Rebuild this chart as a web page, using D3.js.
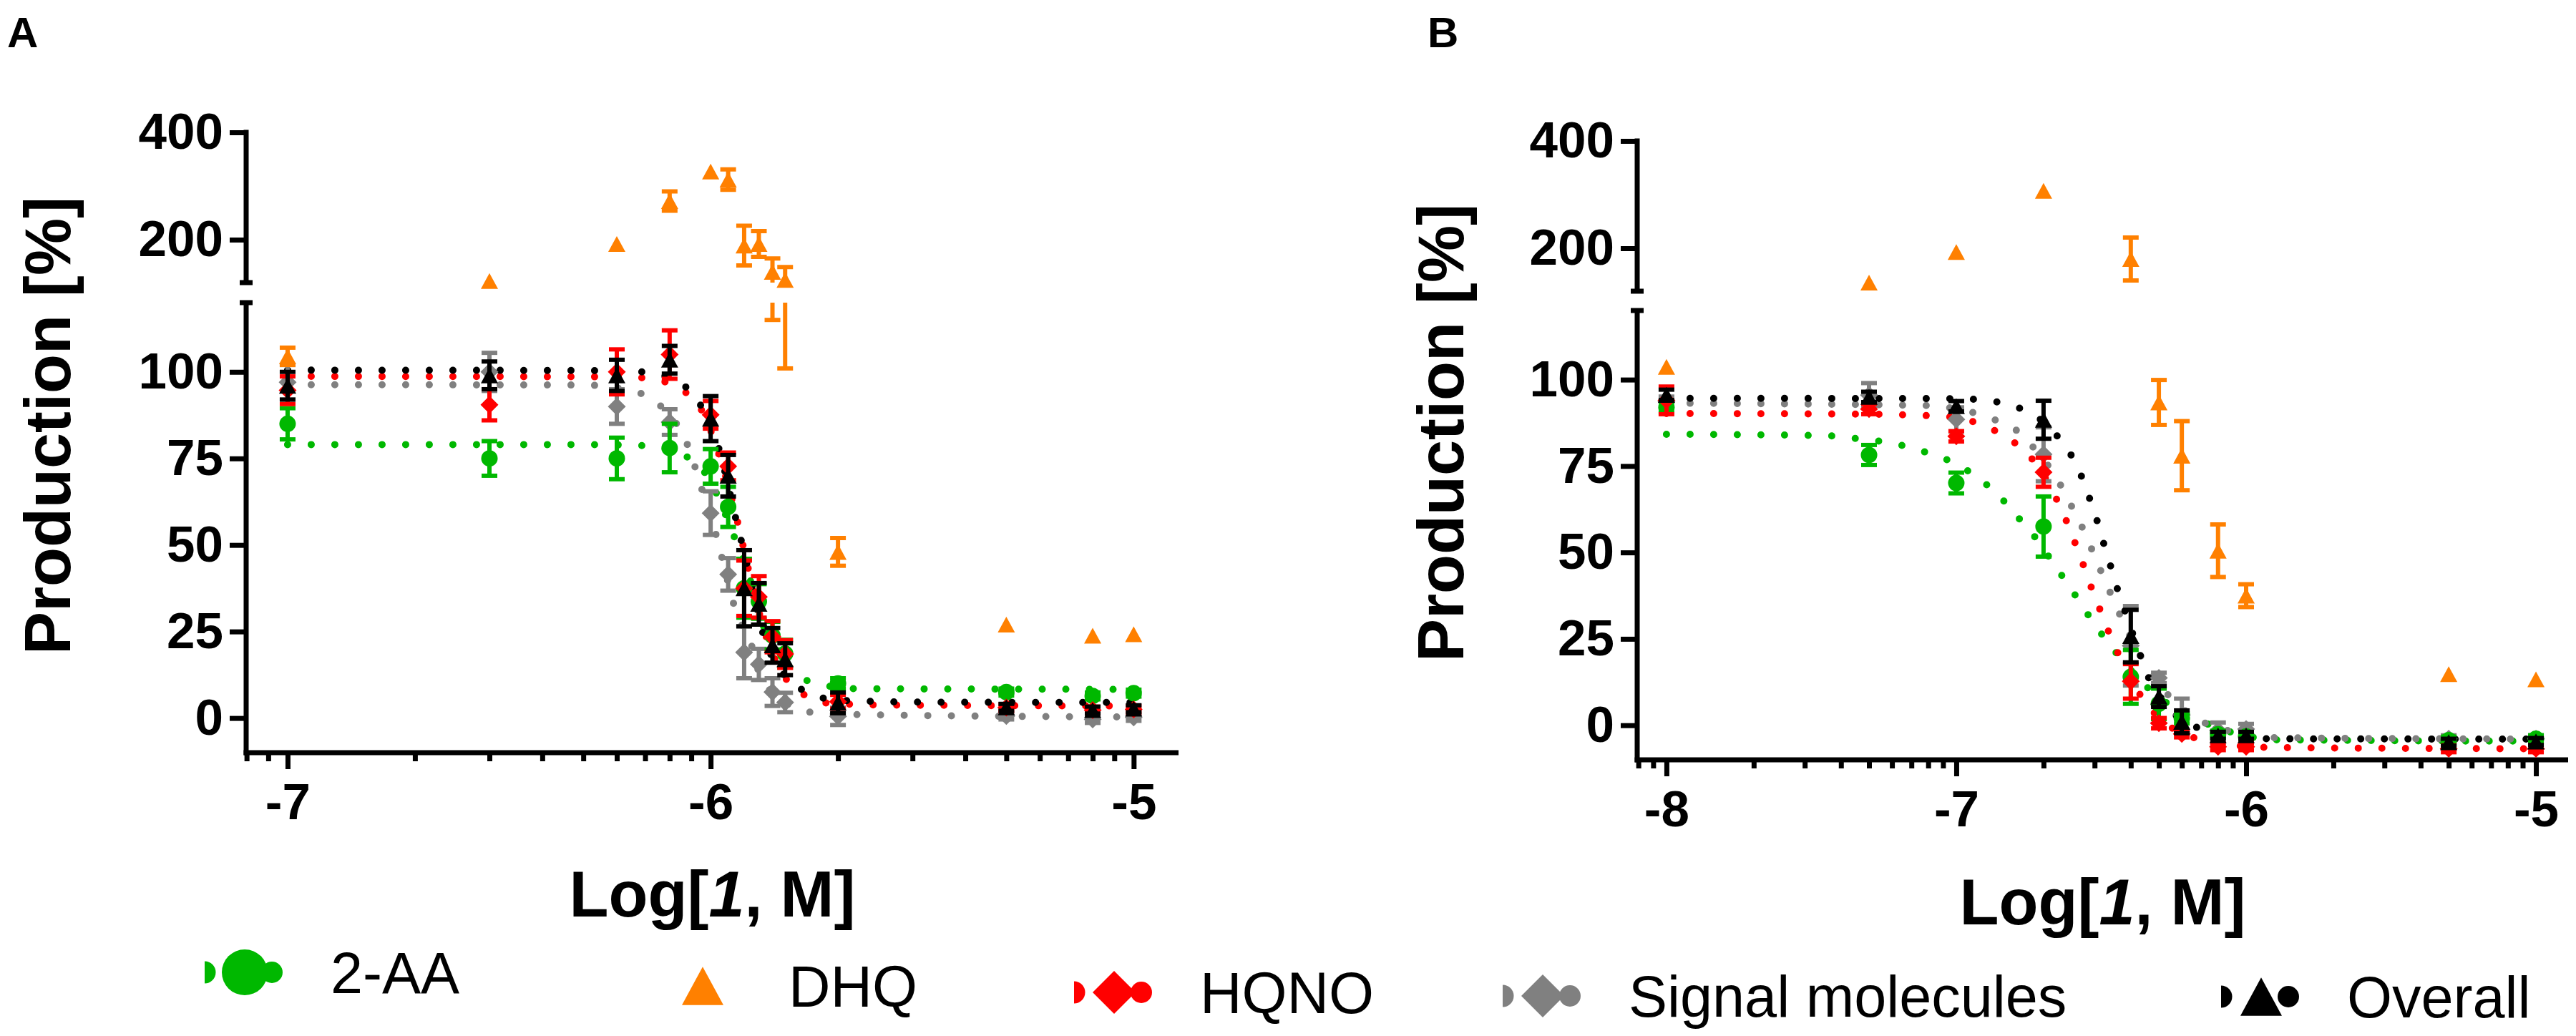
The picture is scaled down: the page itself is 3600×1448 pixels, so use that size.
<!DOCTYPE html>
<html lang="en">
  <head>
    <meta charset="utf-8">
    <title>Production vs Log[1, M]</title>
    <script src="https://d3js.org/d3.v7.min.js"></script>
    <style>
      body { margin: 0; background: white; }
      svg { display: block; }
      text { font-family: "Liberation Sans", Arial, sans-serif; }
    </style>
  </head>
  <body>
    <script>
      // ---------- data ----------
      const seriesNames = ["2-AA", "DHQ", "HQNO", "Signal molecules", "Overall"];

      // panel A : concentrations in M
      const concA = [1e-7, 3e-7, 6e-7, 8e-7, 1e-6, 1.1e-6, 1.2e-6, 1.3e-6, 1.4e-6, 1.5e-6, 2e-6, 5e-6, 8e-6, 1e-5];
      const aaA      = [85, 75, 75, 78, 72.7, 61, 37.5, 33.7, 23.8, 18.6, 10, 7.5, 6.4, 7.2];
      const aaErrA   = [4.5, 5, 6, 7, 5, 5.8, 8.5, 5, 4, 4, 1.5, 1, 1, 1];
      const dhqA     = [104.5, 123, 192, 272, 327, 312, 189, 192, 140, 125, 48, 27, 23.8, 24.2];
      const dhqErrA  = [2.5, 0, 0, 18, 0, 19, 37, 24, 25, 24, 4, 0, 0, 0];
      const hqnoA    = [94.7, 90.5, 100, 105, 87.6, 72.7, 37.5, 35, 23.5, 18.5, 4.7, 3, 2.3, 2.5];
      const hqnoErrA = [4, 4.5, 6.5, 7, 4, 4, 8, 6, 4.5, 4, 2, 1, 1, 1];
      const sigA     = [97, 100, 90, 85.5, 59.2, 41.5, 19, 15.5, 7.5, 4.5, 0.5, 0.6, -0.4, 0.2];
      const sigErrA  = [5, 5.5, 5, 3.7, 6.3, 4.7, 7.5, 4.5, 4, 2.8, 2.5, 1, 1, 1];
      const allA     = [96, 99, 99, 103.5, 86.5, 70, 37.5, 33, 21, 17, 4.4, 3.1, 2.3, 2.7];
      const allErrA  = [4, 4, 4.5, 4, 6.5, 6, 11, 6, 5, 4.6, 3, 1, 1, 1];

      // fitted curves of panel A, [log10 conc, %]
      const fitAaA   = [[-7, 79], [-6.3, 79], [-6.16, 78.7], [-6.052, 75.2], [-6.012, 70.6], [-5.943, 52], [-5.905, 39.3],
                        [-5.872, 25.5], [-5.81, 14.5], [-5.767, 10.6], [-5.657, 8.5], [-5, 8.3]];
      const fitHqnoA = [[-7, 98.7], [-6.3, 98.6], [-6.16, 98.3], [-6.056, 93.8], [-6.02, 88.6], [-5.98, 76], [-5.935, 56],
                        [-5.91, 42.6], [-5.87, 24], [-5.82, 11], [-5.78, 6.8], [-5.72, 4.3], [-5.6, 3.8], [-5, 3.5]];
      const fitSigA  = [[-7, 96.3], [-6.3, 96.2], [-6.16, 93.6], [-6.117, 90], [-6.054, 78.7], [-6.019, 65.4], [-5.986, 52.4],
                        [-5.959, 39.3], [-5.944, 32.3], [-5.9, 19.7], [-5.885, 13], [-5.809, 3.3], [-5.757, 1.6], [-5.644, 1], [-5, 0.3]];
      const fitAllA  = [[-7, 100.5], [-6.3, 100.4], [-6.16, 100], [-6.056, 95.4], [-6.022, 90], [-5.98, 77.6], [-5.94, 57.3],
                        [-5.914, 44.5], [-5.875, 24], [-5.824, 12], [-5.78, 7.9], [-5.727, 5.6], [-5.67, 5], [-5.5, 4.6], [-5, 4.5]];

      // panel B
      const concB = [1e-8, 5e-8, 1e-7, 2e-7, 4e-7, 5e-7, 6e-7, 8e-7, 1e-6, 5e-6, 1e-5];
      const aaB      = [92, 78.2, 70.1, 57.5, 14, 6.2, 2, -2.6, -3.2, -4.3, -3.9];
      const aaErrB   = [1.5, 2.9, 3, 8.7, 7.8, 4.4, 1.5, 1, 1, 1, 1];
      const dhqB     = [103.7, 136, 193, 307, 180, 93.4, 78, 50.5, 37.5, 14.8, 13.3];
      const dhqErrB  = [0, 0, 0, 0, 40, 6.5, 10, 7.6, 3.3, 0, 0];
      const hqnoB    = [94, 91.5, 83.6, 73.2, 12.7, 0.6, -2.5, -6.2, -6.2, -6.8, -6.8];
      const hqnoErrB = [4, 1.5, 1.5, 4.2, 5, 1.5, 1, 1, 1, 1, 1];
      const sigB     = [93.6, 95.5, 88.5, 78.4, 23, 13.7, 3, -1.5, -1.1, -3.9, -3.9];
      const sigErrB  = [1.5, 3.5, 3.5, 7.8, 11.5, 1.5, 4.7, 2.3, 1.5, 1, 1];
      const allB     = [95.6, 95, 92.3, 88.4, 25.8, 8.3, 1, -2.9, -2.9, -4.9, -4.7];
      const allErrB  = [1.5, 1.5, 1.5, 5.5, 7.6, 3, 3.3, 1, 1, 1, 1];

      const fitAaB   = [[-8, 84.2], [-7.45, 83.8], [-7.348, 83], [-7.267, 82.2], [-7.188, 81], [-7.106, 79], [-7.032, 76.8],
                        [-6.96, 73.6], [-6.894, 69.5], [-6.835, 64.8], [-6.78, 59.5], [-6.728, 54.4], [-6.681, 48.8],
                        [-6.635, 43.2], [-6.588, 37.4], [-6.543, 31.7], [-6.496, 26.1], [-6.446, 20.7], [-6.336, 10.6],
                        [-6.128, 0.2], [-6.052, -2], [-5.89, -4.2], [-5, -4.6]];
      const fitHqnoB = [[-8, 90.2], [-7.3, 90], [-7.02, 89.2], [-6.9, 86.5], [-6.795, 81.5], [-6.738, 77], [-6.654, 65.4],
                        [-6.62, 59.1], [-6.59, 52.7], [-6.56, 46], [-6.533, 39.6], [-6.504, 33.4], [-6.474, 27], [-6.42, 17],
                        [-6.363, 8.5], [-6.314, 3.3], [-6.252, -1], [-6.175, -3.7], [-5.93, -6.4], [-5, -6.8]];
      const fitSigB  = [[-8, 93.2], [-7.1, 92.5], [-7.02, 91.8], [-6.862, 88.2], [-6.78, 84.5], [-6.733, 80.3], [-6.682, 75],
                        [-6.637, 69], [-6.6, 63], [-6.563, 56.8], [-6.531, 50.6], [-6.499, 44.2], [-6.467, 38], [-6.434, 31.7],
                        [-6.36, 19.5], [-6.264, 8.3], [-6.15, 1], [-6, -2.5], [-5.89, -3.6], [-5, -4]];
      const fitAllB  = [[-8, 94.6], [-7, 94.5], [-6.85, 93.4], [-6.775, 91.5], [-6.694, 87.4], [-6.65, 83.5], [-6.604, 78.2],
                        [-6.568, 72], [-6.54, 65.6], [-6.514, 59.1], [-6.491, 52.5], [-6.467, 45.9], [-6.444, 39.4],
                        [-6.417, 32.8], [-6.363, 19.7], [-6.335, 13.5], [-6.29, 7.5], [-6.24, 2.7], [-6.165, -0.8],
                        [-6.05, -2.8], [-5.926, -3.9], [-5, -4]];

      // axis ticks
      const yTicksLow = [0, 25, 50, 75, 100];
      const yTicksUp = [200, 400];
      const xMajorA = [1e-7, 1e-6, 1e-5];
      const xLabelsA = ["-7", "-6", "-5"];
      const xMajorB = [1e-8, 1e-7, 1e-6, 1e-5];
      const xLabelsB = ["-8", "-7", "-6", "-5"];

      // ---------- styles ----------
      const colors = { aa: "#00b800", dhq: "#ff8000", hqno: "#ff0000", sig: "#808080", all: "#000000" };

      const circleShape = { draw(ctx, s) { const r = s / 2; ctx.moveTo(r, 0); ctx.arc(0, 0, r, 0, 2 * Math.PI); } };
      const triangleShape = { draw(ctx, s) { const w = s / 2, h = s * 0.46; ctx.moveTo(0, -h); ctx.lineTo(w, h); ctx.lineTo(-w, h); ctx.closePath(); } };
      const diamondShape = { draw(ctx, s) { const r = s / 2; ctx.moveTo(0, -r); ctx.lineTo(r, 0); ctx.lineTo(0, r); ctx.lineTo(-r, 0); ctx.closePath(); } };

      const width = 3600;
      const height = 1448;
      const svg = d3.select("body").append("svg")
                    .attr("width", width)
                    .attr("height", height)
                    .style("background", "white");
      const defs = svg.append("defs");

      function drawPanel(p) {
        const x = d3.scaleLog().domain([10 ** p.logMin, 10 ** p.logMax]).range(p.xRange);
        const yLow = d3.scaleLinear().domain([-10, 120]).range(p.yLow);
        const yUp = d3.scaleLinear().domain([120, 400]).range(p.yUp);
        const yOf = v => v > 120 ? yUp(v) : yLow(v);
        const x0 = p.xRange[0];
        const g = svg.append("g");

        defs.append("clipPath").attr("id", p.id + "up").append("rect")
            .attr("x", 0).attr("y", 0).attr("width", width).attr("height", p.yUp[0]);
        defs.append("clipPath").attr("id", p.id + "low").append("rect")
            .attr("x", 0).attr("y", p.yLow[1]).attr("width", width).attr("height", p.yLow[0] - p.yLow[1]);

        // axes lines (broken y axis)
        const axisG = g.append("g").attr("stroke", "black").attr("stroke-width", 7);
        axisG.append("line").attr("x1", x0).attr("x2", x0).attr("y1", p.yUp[1] - 3.5).attr("y2", p.yUp[0]);
        axisG.append("line").attr("x1", x0).attr("x2", x0).attr("y1", p.yLow[1]).attr("y2", p.yLow[0] + 3.5);
        axisG.append("line").attr("x1", x0 - 9).attr("x2", x0 + 9).attr("y1", p.yUp[0]).attr("y2", p.yUp[0]);
        axisG.append("line").attr("x1", x0 - 9).attr("x2", x0 + 9).attr("y1", p.yLow[1]).attr("y2", p.yLow[1]);
        axisG.append("line").attr("x1", x0 - 3.5).attr("x2", p.xRange[1]).attr("y1", p.yLow[0]).attr("y2", p.yLow[0]);

        const styleAxis = sel => {
          sel.select(".domain").remove();
          sel.selectAll("line").attr("stroke", "black").attr("stroke-width", 7);
          sel.selectAll("text").attr("fill", "black").style("font-size", "71px").style("font-weight", "bold")
             .style("font-family", '"Liberation Sans", Arial, sans-serif');
        };

        g.append("g").attr("transform", `translate(${x0},0)`)
         .call(d3.axisLeft(yLow).tickValues(yTicksLow).tickSize(23).tickPadding(9).tickFormat(d3.format("d")))
         .call(styleAxis);
        g.append("g").attr("transform", `translate(${x0},0)`)
         .call(d3.axisLeft(yUp).tickValues(yTicksUp).tickSize(23).tickPadding(9).tickFormat(d3.format("d")))
         .call(styleAxis);

        const isMajor = t => Math.abs(Math.log10(t) - Math.round(Math.log10(t))) < 1e-6;
        const minors = x.ticks().filter(t => !isMajor(t));
        g.append("g").attr("transform", `translate(0,${p.yLow[0]})`)
         .call(d3.axisBottom(x).tickValues(minors).tickSize(12).tickFormat(""))
         .call(styleAxis);
        g.append("g").attr("transform", `translate(0,${p.yLow[0]})`)
         .call(d3.axisBottom(x).tickValues(p.majors).tickSize(23).tickPadding(20)
                 .tickFormat((d, i) => p.majorLabels[i]))
         .call(styleAxis);

        // fitted curves, drawn as round dots
        const line = d3.line().x(d => x(10 ** d[0])).y(d => yLow(d[1])).curve(d3.curveMonotoneX);
        p.series.filter(s => s.fit).forEach(s => {
          g.append("path").datum(s.fit)
           .attr("d", line)
           .attr("fill", "none")
           .attr("stroke", s.color)
           .attr("stroke-width", 10)
           .attr("stroke-linecap", "round")
           .attr("stroke-dasharray", "0 33")
           .attr("clip-path", `url(#${p.id}low)`);
        });

        // error bars + markers
        p.drawOrder.forEach(k => {
          const s = p.series[k];
          const pts = p.conc.map((c, i) => ({ c: c, m: s.mean[i], e: s.err[i] })).filter(d => d.e > 0);
          [[yUp, "up"], [yLow, "low"]].forEach(([sc, tag]) => {
            const eg = g.append("g").attr("clip-path", `url(#${p.id}${tag})`)
                        .attr("stroke", s.color).attr("stroke-width", 6);
            eg.selectAll(".stem").data(pts).enter().append("line")
              .attr("x1", d => x(d.c)).attr("x2", d => x(d.c))
              .attr("y1", d => sc(d.m - d.e)).attr("y2", d => sc(d.m + d.e));
            eg.selectAll(".capHi").data(pts).enter().append("line")
              .attr("x1", d => x(d.c) - 11).attr("x2", d => x(d.c) + 11)
              .attr("y1", d => sc(d.m + d.e)).attr("y2", d => sc(d.m + d.e));
            eg.selectAll(".capLo").data(pts).enter().append("line")
              .attr("x1", d => x(d.c) - 11).attr("x2", d => x(d.c) + 11)
              .attr("y1", d => sc(d.m - d.e)).attr("y2", d => sc(d.m - d.e));
          });
          g.selectAll(null).data(s.mean).enter().append("path")
           .attr("d", d3.symbol().type(s.shape).size(s.size))
           .attr("transform", (d, i) => `translate(${x(p.conc[i])},${yOf(d)})`)
           .attr("fill", s.color);
        });

        // titles
        g.append("text")
         .attr("transform", `translate(${p.yTitle[0]},${p.yTitle[1]}) rotate(-90)`)
         .attr("text-anchor", "middle")
         .style("font-size", "90px").style("font-weight", "bold")
         .text("Production [%]");
        const xt = g.append("text")
         .attr("x", (p.xRange[0] + p.xRange[1]) / 2).attr("y", p.xTitleY)
         .attr("text-anchor", "middle")
         .style("font-size", "90px").style("font-weight", "bold");
        xt.append("tspan").text("Log[");
        xt.append("tspan").style("font-style", "italic").text("1");
        xt.append("tspan").text(", M]");

        g.append("text").attr("x", p.label[0]).attr("y", p.label[1])
         .style("font-size", "60px").style("font-weight", "bold").text(p.id);
      }

      const makeSeries = (aa, aaE, dhq, dhqE, hq, hqE, sg, sgE, al, alE, fits) => [
        { color: colors.aa, shape: circleShape, size: 23, mean: aa, err: aaE, fit: fits[0] },
        { color: colors.dhq, shape: triangleShape, size: 24, mean: dhq, err: dhqE, fit: null },
        { color: colors.hqno, shape: diamondShape, size: 25, mean: hq, err: hqE, fit: fits[1] },
        { color: colors.sig, shape: diamondShape, size: 25, mean: sg, err: sgE, fit: fits[2] },
        { color: colors.all, shape: triangleShape, size: 24, mean: al, err: alE, fit: fits[3] }
      ];

      drawPanel({
        id: "A", conc: concA, logMin: -7.098, logMax: -4.894, xRange: [344, 1647],
        yUp: [395, 185], yLow: [1052, 423], majors: xMajorA, majorLabels: xLabelsA,
        yTitle: [98, 595], xTitleY: 1281, label: [10, 66],
        drawOrder: [3, 0, 1, 2, 4],
        series: makeSeries(aaA, aaErrA, dhqA, dhqErrA, hqnoA, hqnoErrA, sigA, sigErrA, allA, allErrA,
                           [fitAaA, fitHqnoA, fitSigA, fitAllA])
      });
      drawPanel({
        id: "B", conc: concB, logMin: -8.101, logMax: -4.889, xRange: [2288, 3589],
        yUp: [407, 197], yLow: [1062, 434], majors: xMajorB, majorLabels: xLabelsB,
        yTitle: [2045, 605], xTitleY: 1292, label: [1995, 66],
        drawOrder: [3, 0, 1, 2, 4],
        series: makeSeries(aaB, aaErrB, dhqB, dhqErrB, hqnoB, hqnoErrB, sigB, sigErrB, allB, allErrB,
                           [fitAaB, fitHqnoB, fitSigB, fitAllB])
      });

      // ---------- legend ----------
      const legendShapes = [circleShape, triangleShape, diamondShape, diamondShape, triangleShape];
      const legendColors = [colors.aa, colors.dhq, colors.hqno, colors.sig, colors.all];
      const legendHasLine = [true, false, true, true, true];
      const legendX = [286, 926, 1501, 2100, 3104];
      const legendY = [1359, 1378, 1387, 1392, 1393];

      defs.append("clipPath").attr("id", "halfdot").append("rect")
          .attr("x", 0).attr("y", -20).attr("width", 20).attr("height", 40);

      seriesNames.forEach((name, i) => {
        const lg = svg.append("g").attr("transform", `translate(${legendX[i]},${legendY[i]})`);
        if (legendHasLine[i]) {
          lg.append("circle").attr("r", 15.5).attr("fill", legendColors[i]).attr("clip-path", "url(#halfdot)");
          lg.append("circle").attr("cx", 94).attr("r", 15).attr("fill", legendColors[i]);
        }
        lg.append("path")
          .attr("d", d3.symbol().type(legendShapes[i]).size(i === 0 ? 64 : (legendShapes[i] === triangleShape ? 58 : 60)))
          .attr("transform", "translate(56,0)")
          .attr("fill", legendColors[i]);
        lg.append("text").attr("x", 176).attr("y", 29)
          .style("font-size", "81px")
          .text(name);
      });
    </script>
  </body>
</html>
